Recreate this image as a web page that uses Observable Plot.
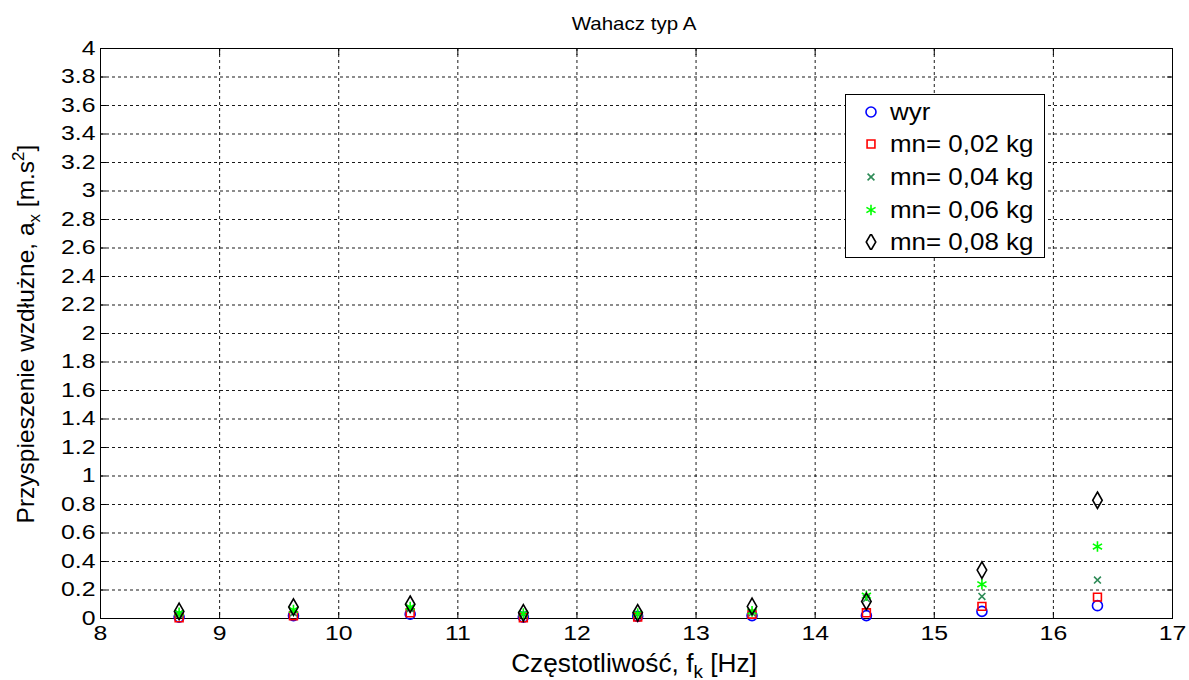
<!DOCTYPE html>
<html><head><meta charset="utf-8">
<script src="https://cdn.jsdelivr.net/npm/d3@7"></script>
<script src="https://cdn.jsdelivr.net/npm/@observablehq/plot@0.6"></script>
<style>
body{margin:0;background:#fff;font-family:"Liberation Sans",Arial,sans-serif;}
#wrap{position:relative;width:1189px;height:680px;}
#legend{position:absolute;left:845px;top:94px;width:200px;height:164px;border:1px solid #000;background:#fff;box-sizing:border-box;}
.li{position:absolute;left:0;height:33px;display:flex;align-items:center;font-size:24px;color:#000;white-space:nowrap;}
.li svg{margin-left:17px;margin-right:11px;}
.li span{display:inline-block;transform:scaleX(1.08);transform-origin:left center;}
</style></head>
<body><div id="wrap"><div id="legend"></div></div>
<script>
const title = "Wahacz typ A";
const freq = [8.66, 9.62, 10.6, 11.55, 12.51, 13.47, 14.43, 15.4, 16.37];
const seriesNames = ["wyr", "mn= 0,02 kg", "mn= 0,04 kg", "mn= 0,06 kg", "mn= 0,08 kg"];
const wyr   = [0.01, 0.02, 0.03, 0.01, 0.015, 0.02, 0.02, 0.05, 0.09];
const mn002 = [0.005, 0.02, 0.04, 0.005, 0.01, 0.03, 0.04, 0.085, 0.15];
const mn004 = [0.03, 0.04, 0.07, 0.03, 0.03, 0.04, 0.14, 0.155, 0.27];
const mn006 = [0.04, 0.06, 0.08, 0.035, 0.035, 0.05, 0.16, 0.24, 0.505];
const mn008 = [0.05, 0.08, 0.10, 0.04, 0.04, 0.085, 0.12, 0.34, 0.83];
const xTicks = [8, 9, 10, 11, 12, 13, 14, 15, 16, 17];
const yTicks = d3.range(0, 21).map(i => +(i * 0.2).toFixed(1));

const styles = [
  {symbol: "circle", stroke: "#0000ff", r: 5},
  {symbol: "square2", stroke: "#ff0000", r: 5},
  {symbol: "times", stroke: "#2e8b57", r: 3.2},
  {symbol: "asterisk", stroke: "#00ff00", r: 5},
  {symbol: "diamond", stroke: "#000000", r: 5}
];
const allSeries = [wyr, mn002, mn004, mn006, mn008];
const data = allSeries.flatMap((vals, s) => vals.map((v, i) => ({x: freq[i], y: v, s})));

const font = "Liberation Sans, Arial, sans-serif";
const dotMarks = styles.map((st, s) => Plot.dot(data.filter(d => d.s === s), {
  x: "x", y: "y", symbol: () => st.symbol, r: st.r, stroke: st.stroke, fill: "none", strokeWidth: 1.6
}));

const chart = Plot.plot({
  width: 1189, height: 680,
  marginLeft: 100, marginRight: 17, marginTop: 48, marginBottom: 62,
  style: {fontFamily: font, fontSize: "20px", color: "#000", background: "#fff"},
  x: {domain: [8, 17], ticks: xTicks, label: null},
  y: {domain: [0, 4], ticks: yTicks, label: null},
  symbol: {type: "identity"},
  marks: [
    Plot.gridX(xTicks.slice(1, -1), {stroke: "#000", strokeOpacity: 0.9, strokeDasharray: "3,3"}),
    Plot.gridY(yTicks.slice(1, -1), {stroke: "#000", strokeOpacity: 0.9, strokeDasharray: "3,3"}),
    Plot.axisX(xTicks, {anchor: "bottom", tickSize: 0, tickPadding: 7, fontSize: 20, tickFormat: d => String(d)}),
    Plot.axisY(yTicks, {anchor: "left", tickSize: 0, tickPadding: 5, fontSize: 20, tickFormat: d => String(d)}),
    Plot.axisX(xTicks, {anchor: "bottom", tickSize: -6, text: null}),
    Plot.axisX(xTicks, {anchor: "top", tickSize: -6, text: null}),
    Plot.axisY(yTicks, {anchor: "left", tickSize: -6, text: null}),
    Plot.axisY(yTicks, {anchor: "right", tickSize: -6, text: null}),
    Plot.frame({stroke: "#000", strokeWidth: 1}),
    ...dotMarks
  ]
});

function stretch(node, s) {
  const x = node.getAttribute("x") || 0, y = node.getAttribute("y") || 0;
  const t = node.getAttribute("transform") || "";
  node.setAttribute("transform", `${t} translate(${x},${y}) scale(${s},1)`);
  node.setAttribute("x", 0); node.setAttribute("y", 0);
}

const svg = d3.select(chart);
svg.attr("style", (svg.attr("style") || "") + ";overflow:visible");
document.getElementById("wrap").prepend(chart);
chart.style.position = "absolute"; chart.style.left = "0"; chart.style.top = "0";

// widen tick labels to match the reference's broader lettering
svg.selectAll("text").each(function() {
  const len = this.getComputedTextLength();
  if (len > 0) {
    this.setAttribute("textLength", (len * 1.24).toFixed(2));
    this.setAttribute("lengthAdjust", "spacingAndGlyphs");
  }
});

// title
const tt = svg.append("text").attr("x", 634).attr("y", 30).attr("text-anchor", "middle")
  .attr("font-size", 18).attr("font-family", font).attr("fill", "#000").text(title);
stretch(tt.node(), 1.14);
// x label
const xl = svg.append("text").attr("x", 634).attr("y", 672).attr("text-anchor", "middle")
  .attr("font-size", 25).attr("font-family", font).attr("fill", "#000");
xl.append("tspan").text("Częstotliwość, f");
xl.append("tspan").attr("font-size", 18).attr("dy", 6).text("k");
xl.append("tspan").attr("dy", -6).text(" [Hz]");
stretch(xl.node(), 1.05);
// y label
const yl = svg.append("text").attr("transform", "translate(34,334) rotate(-90)").attr("text-anchor", "middle")
  .attr("font-size", 24.5).attr("font-family", font).attr("fill", "#000");
yl.append("tspan").text("Przyspieszenie wzdłużne, a");
yl.append("tspan").attr("font-size", 17).attr("dy", 6).text("x");
yl.append("tspan").attr("dy", -6).text(" [m.s");
yl.append("tspan").attr("font-size", 17).attr("dy", -10).text("2");
yl.append("tspan").attr("dy", 10).text("]");

// legend
const legend = document.getElementById("legend");
const symMap = {circle: d3.symbolCircle, square2: d3.symbolSquare2, times: d3.symbolTimes, asterisk: d3.symbolAsterisk, diamond: d3.symbolDiamond};
seriesNames.forEach((name, i) => {
  const st = styles[i];
  const row = document.createElement("div");
  row.className = "li";
  row.style.top = (0 + i * 32.7) + "px";
  const area = Math.PI * st.r * st.r;
  const path = d3.symbol(symMap[st.symbol], area)();
  row.innerHTML = `<svg width="16" height="16" viewBox="-8 -8 16 16"><path d="${path}" fill="none" stroke="${st.stroke}" stroke-width="1.6"/></svg><span>${name}</span>`;
  legend.appendChild(row);
});
</script></body></html>
